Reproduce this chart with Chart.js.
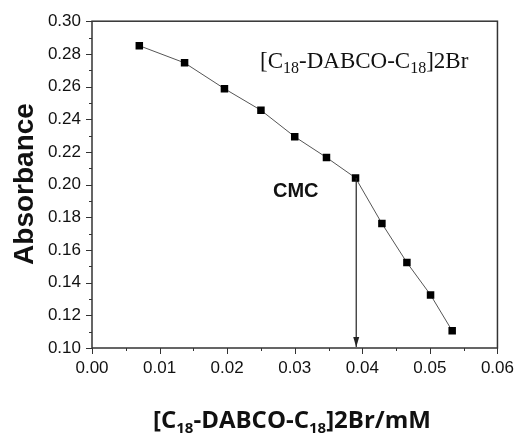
<!DOCTYPE html>
<html>
<head>
<meta charset="utf-8">
<script src="https://cdn.jsdelivr.net/npm/chart.js@4"></script>
<style>
  html, body { margin: 0; padding: 0; background: #fff; }
  #wrap { width: 524px; height: 437px; }
</style>
</head>
<body>
<div id="wrap"><canvas id="c" width="524" height="437"></canvas></div>
<script>
// concentration (mM) and absorbance
const conc = [0.0070, 0.0137, 0.0196, 0.0250, 0.0300, 0.0347, 0.0390, 0.0429, 0.0466, 0.0501, 0.0533];
const absorbance = [0.285, 0.2745, 0.2587, 0.2455, 0.2293, 0.2166, 0.2041, 0.1762, 0.1523, 0.1325, 0.1105];
const cmcValue = 0.0391;
const cmcAbs = 0.2041;
const xTicks = [0, 0.01, 0.02, 0.03, 0.04, 0.05, 0.06];
const yTicks = [0.10, 0.12, 0.14, 0.16, 0.18, 0.20, 0.22, 0.24, 0.26, 0.28, 0.30];

const AXIS = '#333';

// draws text with "18" subscripts, segs = [[text, isSub], ...]
function subText(ctx, segs, x, y, size, subSize, family, weight, align) {
  const main = weight + ' ' + size + 'px ' + family;
  const sub = weight + ' ' + subSize + 'px ' + family;
  let total = 0;
  segs.forEach(s => { ctx.font = s[1] ? sub : main; total += ctx.measureText(s[0]).width; });
  let cx = align === 'center' ? x - total / 2 : x;
  ctx.textAlign = 'left';
  ctx.textBaseline = 'alphabetic';
  segs.forEach(s => {
    ctx.font = s[1] ? sub : main;
    ctx.fillText(s[0], cx, s[1] ? y + size * 0.2 : y);
    cx += ctx.measureText(s[0]).width;
  });
}

const decor = {
  id: 'decor',
  afterDraw(chart) {
    const ctx = chart.ctx, a = chart.chartArea;
    const xs = chart.scales.x, ys = chart.scales.y;
    ctx.save();
    ctx.strokeStyle = AXIS;
    ctx.lineWidth = 1.5;
    ctx.strokeRect(a.left, a.top, a.right - a.left, a.bottom - a.top);

    ctx.lineWidth = 1;
    ctx.beginPath();
    // x ticks (major + minor), outward
    for (let i = 0; i <= 12; i++) {
      const px = Math.round(xs.getPixelForValue(i * 0.005)) + 0.5;
      const len = i % 2 === 0 ? 6 : 3;
      ctx.moveTo(px, a.bottom);
      ctx.lineTo(px, a.bottom + len);
    }
    // y ticks
    for (let i = 0; i <= 20; i++) {
      const py = Math.round(ys.getPixelForValue(0.10 + i * 0.01)) + 0.5;
      const len = i % 2 === 0 ? 6 : 3;
      ctx.moveTo(a.left, py);
      ctx.lineTo(a.left - len, py);
    }
    ctx.stroke();

    // CMC arrow
    const ax = xs.getPixelForValue(cmcValue);
    const ay0 = ys.getPixelForValue(cmcAbs);
    const ay1 = ys.getPixelForValue(0.10) - 1;
    ctx.strokeStyle = '#222';
    ctx.lineWidth = 1.2;
    ctx.beginPath();
    ctx.moveTo(ax, ay0);
    ctx.lineTo(ax, ay1);
    ctx.stroke();
    ctx.fillStyle = '#222';
    ctx.beginPath();
    ctx.moveTo(ax, ay1);
    ctx.lineTo(ax - 3, ay1 - 10);
    ctx.lineTo(ax + 3, ay1 - 10);
    ctx.closePath();
    ctx.fill();

    ctx.fillStyle = '#111';
    ctx.font = 'bold 20px "Liberation Sans", Arial, sans-serif';
    ctx.textAlign = 'left';
    ctx.textBaseline = 'alphabetic';
    ctx.fillText('CMC', 273, 197);

    subText(ctx, [['[C', false], ['18', true], ['-DABCO-C', false], ['18', true], [']2Br', false]],
      260, 68, 23, 16, '"Liberation Serif", "Times New Roman", serif', 'normal', 'left');

    // axis titles
    subText(ctx, [['[C', false], ['18', true], ['-DABCO-C', false], ['18', true], [']2Br/mM', false]],
      292, 428, 24, 15, '"Open Sans", sans-serif', 'bold', 'center');

    ctx.save();
    ctx.translate(33, 184);
    ctx.rotate(-Math.PI / 2);
    ctx.font = 'bold 28px "Liberation Sans", Arial, sans-serif';
    ctx.textAlign = 'center';
    ctx.textBaseline = 'alphabetic';
    ctx.fillText('Absorbance', 0, 0);
    ctx.restore();
    ctx.restore();
  }
};

new Chart(document.getElementById('c'), {
  type: 'line',
  data: {
    datasets: [{
      data: conc.map((x, i) => ({ x: x, y: absorbance[i] })),
      borderColor: '#555',
      borderWidth: 1,
      pointStyle: 'rect',
      pointRadius: 5.3,
      pointBackgroundColor: '#000',
      pointBorderColor: '#000',
      pointBorderWidth: 0,
      tension: 0
    }]
  },
  options: {
    responsive: false,
    animation: false,
    events: [],
    layout: { padding: { top: 18, right: 23, left: 0, bottom: 0 } },
    plugins: { legend: { display: false }, tooltip: { enabled: false } },
    scales: {
      x: {
        type: 'linear', min: 0, max: 0.06,
        grid: { display: false, drawTicks: false },
        border: { display: false },
        afterBuildTicks: s => { s.ticks = xTicks.map(v => ({ value: v })); },
        afterFit: s => { s.height = 89; },
        ticks: {
          padding: 10,
          color: '#111',
          font: { family: '"Liberation Sans", Arial, sans-serif', size: 17 },
          maxRotation: 0,
          callback: v => v.toFixed(2)
        }
      },
      y: {
        type: 'linear', min: 0.10, max: 0.30,
        grid: { display: false, drawTicks: false },
        border: { display: false },
        afterBuildTicks: s => { s.ticks = yTicks.map(v => ({ value: v })); },
        afterFit: s => { s.width = 92; },
        ticks: {
          padding: 11,
          color: '#111',
          font: { family: '"Liberation Sans", Arial, sans-serif', size: 17 },
          callback: v => v.toFixed(2)
        }
      }
    }
  },
  plugins: [decor]
});
</script>
</body>
</html>
